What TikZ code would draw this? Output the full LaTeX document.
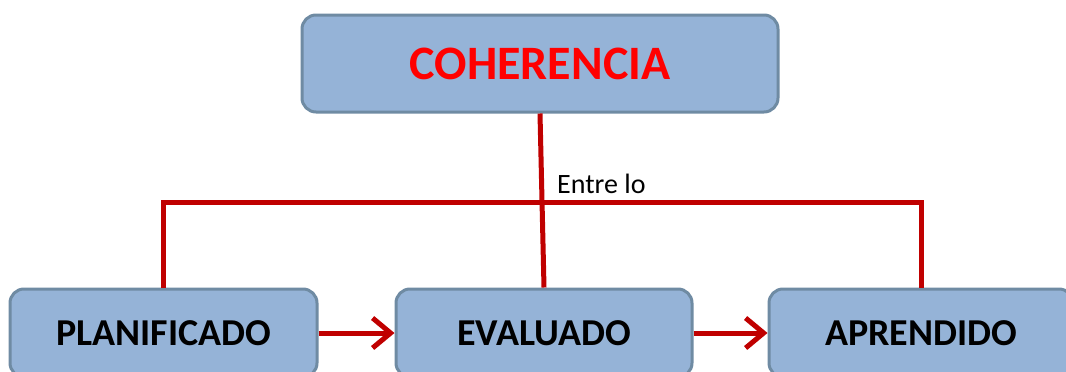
\documentclass[tikz,border=0pt]{standalone}
\usepackage{fontspec}
\setmainfont{Carlito}
\usetikzlibrary{arrows.meta}
\definecolor{boxfill}{HTML}{95B3D7}
\definecolor{boxline}{HTML}{6F8BA3}
\definecolor{linkred}{HTML}{C00000}
\definecolor{titlered}{HTML}{FF0000}
\tikzset{
  conceptbox/.style={draw=boxline, fill=boxfill, line width=3pt, rounded corners=14pt, inner sep=0pt, font=\bfseries\fontsize{38}{40}\selectfont},
  link/.style={draw=linkred, line width=5pt},
  flow/.style={link, -{Straight Barb[length=18pt,width=30pt,line width=5pt]}},
}
\begin{document}
\begin{tikzpicture}[x=1pt,y=-1pt]
\clip (0,0) rectangle (1066,372);
\node[conceptbox, minimum width=476pt, minimum height=97pt, text=titlered, font=\bfseries\fontsize{48}{50}\selectfont] (coh) at (540,63.5) {COHERENCIA};
\node[conceptbox, minimum width=307pt, minimum height=88pt] (plan) at (163.5,333) {PLANIFICADO};
\node[conceptbox, minimum width=296pt, minimum height=88pt] (eval) at (544,333) {EVALUADO};
\node[conceptbox, minimum width=304pt, minimum height=88pt] (apr) at (921,333) {APRENDIDO};
\coordinate (hl) at (0,202);
\draw[link] (coh.south) -- (eval.north);
\draw[link] (plan.north) |- (apr.north |- hl) -- (apr.north);
\draw[flow] (plan.east) -- (eval.west);
\draw[flow] (eval.east) -- (apr.west);
\node[anchor=west, inner sep=0pt, font=\fontsize{28}{30}\selectfont] (lbl) at (557,184) {Entre lo};
\end{tikzpicture}
\end{document}
